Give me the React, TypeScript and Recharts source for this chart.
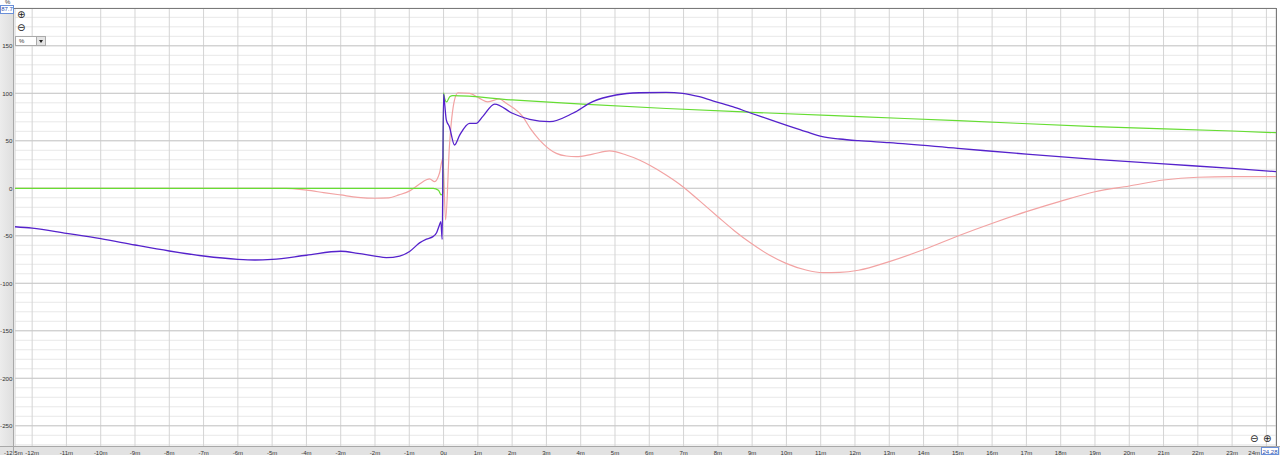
import React from 'react';
import { LineChart, Line, XAxis, YAxis, CartesianGrid, ReferenceLine } from 'recharts';

// ---- axis ticks ----
const xTicks = [-12.5, -12, -11, -10, -9, -8, -7, -6, -5, -4, -3, -2, -1, 0, 1, 2, 3, 4, 5, 6, 7, 8, 9, 10, 11, 12, 13, 14, 15, 16, 17, 18, 19, 20, 21, 22, 23, 24];
const xTickLabels = ['-12.5m', '-12m', '-11m', '-10m', '-9m', '-8m', '-7m', '-6m', '-5m', '-4m', '-3m', '-2m', '-1m', '0u', '1m', '2m', '3m', '4m', '5m', '6m', '7m', '8m', '9m', '10m', '11m', '12m', '13m', '14m', '15m', '16m', '17m', '18m', '19m', '20m', '21m', '22m', '23m', '24m'];
const yMinorTicks = [180, 170, 160, 150, 140, 130, 120, 110, 100, 90, 80, 70, 60, 50, 40, 30, 20, 10, 0, -10, -20, -30, -40, -50, -60, -70, -80, -90, -100, -110, -120, -130, -140, -150, -160, -170, -180, -190, -200, -210, -220, -230, -240, -250, -260, -270];
const yMajorTicks = [150, 100, 50, 0, -50, -100, -150, -200, -250];

// ---- series: purple ----
const purpleT = [-12.5, -12, -11, -10, -9, -8, -7, -6, -5.5, -5, -4, -3, -2.5, -2, -1.67, -1.28, -0.99, -0.7, -0.5, -0.31, -0.2, -0.12, -0.08, -0.04, 0, 0.03, 0.08, 0.17, 0.32, 0.47, 0.76, 0.95, 1.14, 1.49, 2.01, 2.51, 3.09, 3.77, 4.35, 5.03, 5.71, 6.49, 6.97, 7.46, 7.95, 8.43, 8.97, 9.5, 9.99, 10.57, 11.05, 11.55, 12.1, 13, 15, 17, 19, 21, 23, 24.28];
const purpleV = [-40.5, -42, -47.4, -53, -59.7, -66, -71.3, -74.8, -75.5, -74.8, -70.5, -66.3, -68.5, -71.3, -73, -71.3, -66.5, -57.5, -53.5, -50.9, -46.5, -38.6, -35, -53.7, 99, 89.6, 72, 64.8, 45.6, 56, 68.4, 68.4, 75.4, 88.7, 79, 72.6, 70.1, 79, 91.2, 98.2, 100.6, 101, 100, 96.4, 91, 85.9, 79, 72.6, 66.6, 59.6, 54.3, 51.9, 50.1, 48, 42, 36, 30.5, 25.6, 21, 17.5];

// ---- series: green ----
const greenT = [-12.5, -4, -0.3, -0.15, -0.07, -0.02, 0, 0.03, 0.09, 0.18, 0.27, 2, 4.06, 6.5, 8.97, 12.1, 15, 19, 23, 24.28];
const greenV = [0, 0, 0, -2, -7, -5, 100.6, 95, 91, 96.4, 97.5, 93, 88.7, 84, 80, 75.4, 71.2, 64.9, 60.3, 58.5];

// ---- series: red ----
const redT = [-12.5, -5, -4.6, -4, -3.5, -3, -2.5, -2, -1.6, -1.3, -1, -0.7, -0.5, -0.41, -0.26, -0.12, -0.02, 0.06, 0.17, 0.32, 0.42, 0.76, 1.05, 1.29, 1.63, 1.83, 2.31, 2.56, 2.8, 3.29, 3.58, 3.87, 4.35, 4.84, 5.33, 5.71, 6, 6.49, 6.98, 7.46, 8, 8.48, 8.97, 9.5, 9.99, 10.57, 11.06, 11.55, 12.1, 13, 13.97, 15, 16.01, 17, 17.96, 19, 20, 21, 22, 23, 24.28];
const redV = [0, 0, 0, -2, -4.5, -7, -9.5, -10.5, -10, -7, -3, 4.5, 9, 10, 7, 15.8, 31.6, -33.4, 43.8, 93, 100.6, 100, 94.7, 91, 94, 89.5, 75.4, 61.4, 50.8, 36.8, 34, 33.3, 36, 39.3, 35, 29.8, 24.5, 14, 1.7, -13, -29.9, -44.6, -57.9, -70.2, -79, -86, -88.8, -88.5, -86.3, -77.2, -65, -50.2, -36.8, -24.6, -14, -3.6, 2.4, 8.7, 11.6, 12.2, 12.2];

const toData = (ts: number[], vs: number[]) => ts.map((t, i) => ({ t, v: vs[i] }));
const purpleData = toData(purpleT, purpleV);
const greenData = toData(greenT, greenV);
const redData = toData(redT, redV);

const W = 1280;
const H = 455;
const FONT = 'Liberation Sans, Arial, sans-serif';

const XTick = (props: any) => {
  const { x, payload } = props;
  const idx = xTicks.indexOf(payload.value);
  const label = idx >= 0 ? xTickLabels[idx] : '';
  const first = payload.value === -12.5;
  const last = payload.value === 24;
  return (
    <text
      x={first ? 4 : last ? 1260 : x}
      y={H}
      textAnchor={first ? 'start' : last ? 'end' : 'middle'}
      fontSize={6}
      fill="#333"
      fontFamily={FONT}
    >
      {label}
    </text>
  );
};

const YTick = (props: any) => {
  const { y, payload } = props;
  if (!yMajorTicks.includes(payload.value)) return <g />;
  return (
    <text x={12.5} y={y + 2.3} textAnchor="end" fontSize={6.2} fill="#333" fontFamily={FONT}>
      {payload.value}
    </text>
  );
};

const iconStyle: React.CSSProperties = {
  position: 'absolute',
  fontFamily: 'DejaVu Sans, sans-serif',
  fontSize: 10,
  lineHeight: '10px',
  color: '#222',
};

export default function App() {
  return (
    <div style={{ position: 'absolute', left: 0, top: 0, width: W, height: H, background: '#fff', overflow: 'hidden', fontFamily: FONT }}>
      {/* left axis band */}
      <div style={{ position: 'absolute', left: 0, top: 8, width: 14, height: 438, background: 'linear-gradient(to right, #ececec, #dedede)' }} />
      {/* bottom axis band */}
      <div style={{ position: 'absolute', left: 0, top: 446, width: W, height: 9, background: '#e2e2e2' }} />
      <div style={{ position: 'absolute', left: 0, top: 0 }}>
        <LineChart width={W} height={H} margin={{ top: 8, right: 4, bottom: 0, left: 0 }}>
          <CartesianGrid vertical={false} stroke="#e8e8e8" strokeWidth={1} />
          <CartesianGrid horizontal={false} stroke="#d4d4d4" strokeWidth={1} />
          <XAxis
            dataKey="t"
            type="number"
            domain={[-12.5, 24.28]}
            ticks={xTicks}
            interval={0}
            height={9}
            axisLine={false}
            tickLine={false}
            tick={<XTick />}
            allowDataOverflow
          />
          <YAxis
            type="number"
            domain={[-271.3, 189.8]}
            ticks={yMinorTicks}
            interval={0}
            width={15}
            axisLine={false}
            tickLine={false}
            tick={<YTick />}
            allowDataOverflow
          />
          {yMajorTicks.map((v) => (
            <ReferenceLine key={v} y={v} stroke="#c8c8c8" strokeWidth={1} />
          ))}
          <Line data={redData} dataKey="v" type="monotone" stroke="#f2a3a3" strokeWidth={1.2} dot={false} isAnimationActive={false} />
          <Line data={greenData} dataKey="v" type="monotone" stroke="#66dd33" strokeWidth={1.2} dot={false} isAnimationActive={false} />
          <Line data={purpleData} dataKey="v" type="monotone" stroke="#5522cc" strokeWidth={1.3} dot={false} isAnimationActive={false} />
        </LineChart>
      </div>
      {/* plot borders */}
      <div style={{ position: 'absolute', left: 14, top: 8, width: 1262, height: 1, background: '#7a7a7a' }} />
      <div style={{ position: 'absolute', left: 1276, top: 8, width: 1, height: 438, background: '#7a7a7a' }} />
      <div style={{ position: 'absolute', left: 13, top: 8, width: 1, height: 447, background: '#a8a8a8' }} />
      <div style={{ position: 'absolute', left: 0, top: 446, width: W, height: 1, background: '#a8a8a8' }} />
      {/* top-left controls */}
      <div style={{ position: 'absolute', left: 5, top: -1, fontSize: 6, color: '#333' }}>%</div>
      <div style={{ position: 'absolute', left: 0, top: 5, width: 12, height: 7, border: '1px solid #6a8fd8', background: '#fff', fontSize: 6, lineHeight: '7px', color: '#2a4fb0', textAlign: 'center' }}>87.7</div>
      <div style={{ ...iconStyle, left: 17, top: 10 }}>⊕</div>
      <div style={{ ...iconStyle, left: 17, top: 23 }}>⊖</div>
      <div style={{ position: 'absolute', left: 15, top: 36, width: 31, height: 10, border: '1px solid #aaa', background: '#fff', boxSizing: 'border-box' }}>
        <span style={{ position: 'absolute', left: 3, top: 0, fontSize: 6, lineHeight: '8px', color: '#333' }}>%</span>
        <div style={{ position: 'absolute', right: 0, top: 0, width: 8, height: 8, background: '#e4e4e4', borderLeft: '1px solid #aaa' }}>
          <div style={{ position: 'absolute', left: 2, top: 3, width: 0, height: 0, borderLeft: '2px solid transparent', borderRight: '2px solid transparent', borderTop: '3px solid #222' }} />
        </div>
      </div>
      {/* bottom-right controls */}
      <div style={{ ...iconStyle, left: 1250, top: 434 }}>⊖</div>
      <div style={{ ...iconStyle, left: 1263, top: 434 }}>⊕</div>
      <div style={{ position: 'absolute', left: 1261, top: 447, width: 18, height: 8, border: '1px solid #6a8fd8', background: '#fff', fontSize: 6, lineHeight: '8px', color: '#2a4fb0', textAlign: 'center', boxSizing: 'border-box' }}>24.28</div>
    </div>
  );
}
